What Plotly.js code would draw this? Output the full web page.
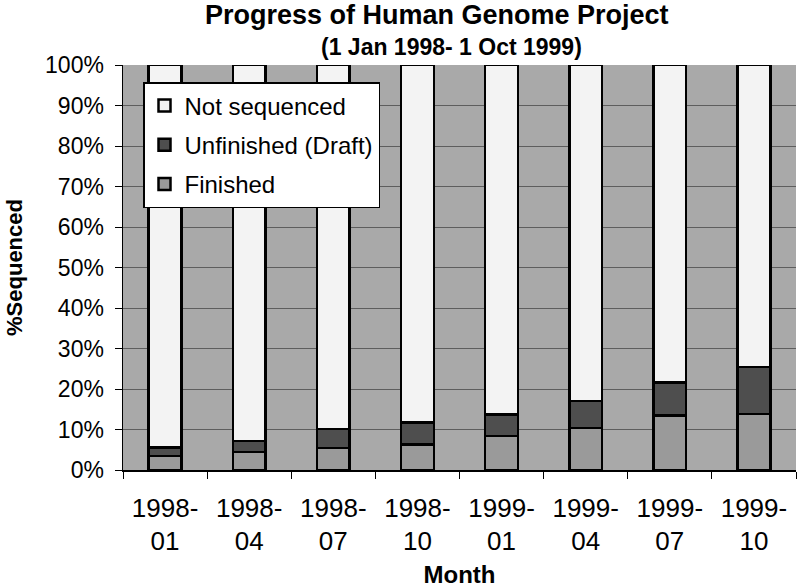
<!DOCTYPE html>
<html>
<head>
<meta charset="utf-8">
<script src="https://cdn.plot.ly/plotly-3.0.1.min.js"></script>
<style>html,body{margin:0;padding:0;background:#fff;}#chart{width:800px;height:588px;}</style>
</head>
<body>
<div id="chart"></div>
<script>
// Data (percent of genome)
const months = ['1998-01','1998-04','1998-07','1998-10','1999-01','1999-04','1999-07','1999-10'];
const yearLabels = ['1998-','1998-','1998-','1998-','1999-','1999-','1999-','1999-'];
const monthLabels = ['01','04','07','10','01','04','07','10'];
const finished = [3.4, 4.5, 5.4, 6.3, 8.4, 10.4, 13.4, 13.8];
const unfinished = [2.1, 2.7, 4.7, 5.4, 5.3, 6.6, 8.2, 11.6];
const notSequenced = [94.5, 92.8, 89.9, 88.3, 86.3, 83.0, 78.4, 74.6];
const yTicks = [0,10,20,30,40,50,60,70,80,90,100];

const FONT = 'Liberation Sans, Arial, Helvetica, sans-serif';
const outline = {color:'#000', width:2.5};

const traces = [
  {type:'bar', name:'Finished', x:months, y:finished, legendgroup:'a', legendrank:3,
   marker:{color:'#9a9a9a', line:outline}, width:0.39},
  {type:'bar', name:'Unfinished (Draft)', x:months, y:unfinished, legendgroup:'b', legendrank:2,
   marker:{color:'#4e4e4e', line:outline}, width:0.39},
  {type:'bar', name:'Not sequenced', x:months, y:notSequenced, legendgroup:'c', legendrank:1,
   marker:{color:'#f3f3f3', line:outline}, width:0.39},
  {type:'scatter', mode:'markers', x:months, y:months.map(()=>null), xaxis:'x2',
   showlegend:false, hoverinfo:'skip', marker:{opacity:0}}
];

const layout = {
  width:800, height:588,
  margin:{l:123, r:4, t:65, b:118},
  paper_bgcolor:'#ffffff',
  plot_bgcolor:'#a9a9a9',
  barmode:'stack',
  showlegend:true,
  font:{family:FONT, color:'#000'},
  title:{text:'<b>Progress of Human Genome Project</b>', font:{size:27, family:FONT, color:'#000'},
         xref:'container', x:0.546, xanchor:'center', yref:'container', y:1-15/588, yanchor:'middle'},
  annotations:[
    {text:'<b>(1 Jan 1998- 1 Oct 1999)</b>', xref:'paper', yref:'paper', x:(451-123)/673, y:(470-47)/405,
     xanchor:'center', yanchor:'middle', showarrow:false, font:{size:23, family:FONT, color:'#000'}}
  ],
  legend:{x:(143-123)/673, y:(470-82)/405, xanchor:'left', yanchor:'top',
          bgcolor:'#ffffff', bordercolor:'#000', borderwidth:1.5,
          font:{size:24, family:FONT, color:'#000'},
          traceorder:'grouped', tracegroupgap:5},
  xaxis:{type:'category', categoryarray:months, range:[-0.5,7.5],
         tickmode:'array', tickvals:months, ticktext:yearLabels,
         tickson:'boundaries', ticks:'outside', ticklen:7, tickcolor:'#000', tickwidth:1,
         showline:true, linecolor:'#000', linewidth:1.5, showgrid:false,
         tickfont:{size:26, family:FONT, color:'#000'}, ticklabelstandoff:14,
         title:{text:'<b>Month</b>', font:{size:24, family:FONT, color:'#000'}, standoff:50},
         automargin:false},
  xaxis2:{type:'category', categoryarray:months, range:[-0.5,7.5], overlaying:'x', anchor:'y', side:'bottom',
          tickmode:'array', tickvals:months, ticktext:monthLabels, ticks:'', showline:false, showgrid:false,
          tickfont:{size:26, family:FONT, color:'#000'}, ticklabelstandoff:53, automargin:false},
  yaxis:{range:[0,100], tickmode:'array', tickvals:yTicks, ticktext:yTicks.map(v=>v+'%'),
         ticks:'outside', ticklen:7, tickcolor:'#000', tickwidth:1,
         showline:true, linecolor:'#000', linewidth:1.5,
         showgrid:true, gridcolor:'#5e5e5e', gridwidth:1, zeroline:false,
         tickfont:{size:23, family:FONT, color:'#000'}, ticklabelstandoff:6,
         title:{text:'<b>%Sequenced</b>', font:{size:22, family:FONT, color:'#000'}, standoff:16},
         automargin:false}
};

Plotly.newPlot('chart', traces, layout, {displayModeBar:false, staticPlot:true});
</script>
</body>
</html>
